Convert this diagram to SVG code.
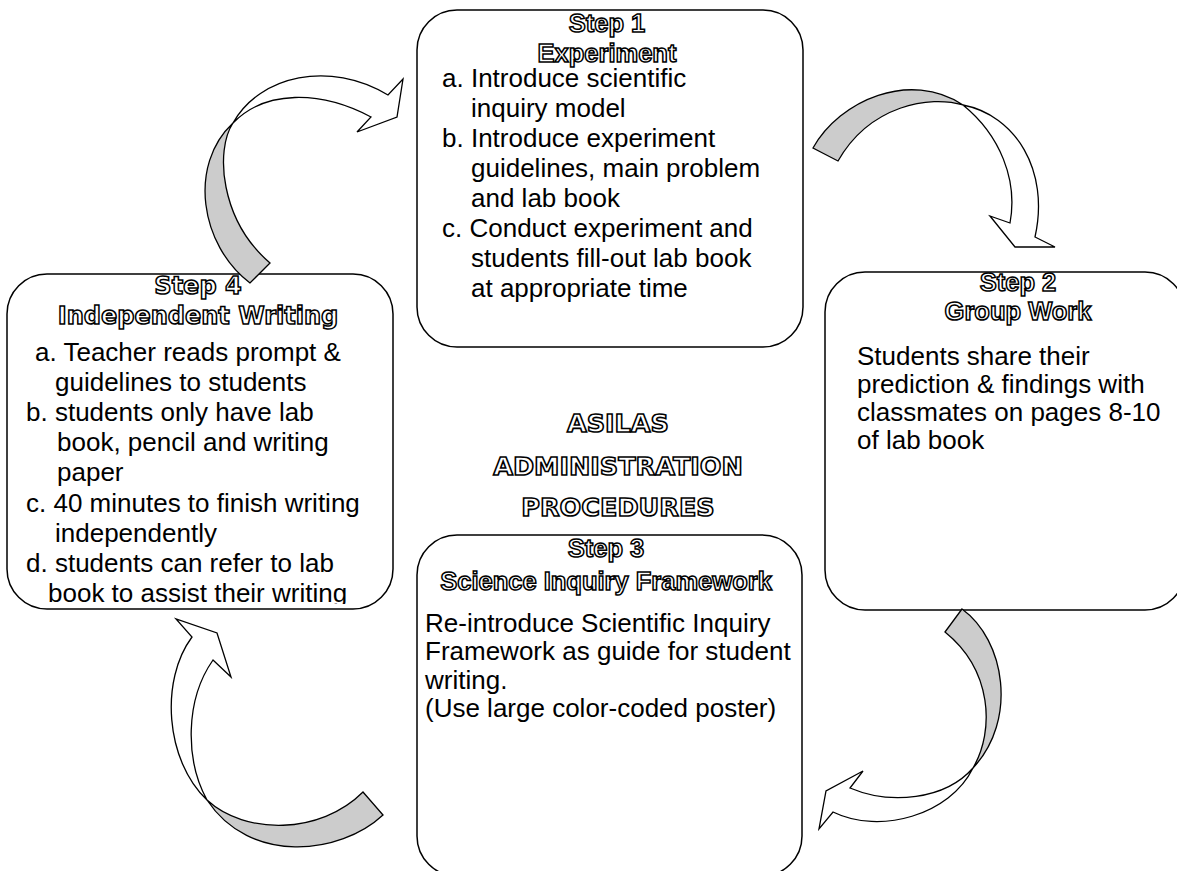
<svg xmlns="http://www.w3.org/2000/svg" width="1177" height="871" viewBox="0 0 1177 871">
<style>
.box{fill:#fff;stroke:#000;stroke-width:1.5}
.hdr{font-family:"Liberation Sans",Arial,sans-serif;font-weight:bold;font-size:25.5px;fill:#fff;stroke:#000;stroke-width:1.5;text-anchor:middle}
.hdr2{font-family:"DejaVu Sans",Verdana,sans-serif;font-weight:bold;font-size:24px;fill:#fff;stroke:#000;stroke-width:1.5;text-anchor:middle}
.ttl{font-family:"DejaVu Sans",Verdana,sans-serif;font-weight:bold;font-size:25.5px;fill:#fff;stroke:#000;stroke-width:1.6;text-anchor:middle}
.body{font-family:"Liberation Sans",Arial,sans-serif;font-size:26px;fill:#000}
.back{fill:#ccc;stroke:#000;stroke-width:1.3;stroke-linejoin:miter}
.front{fill:#fff;stroke:#000;stroke-width:1.3;stroke-linejoin:miter}
</style>
<defs>
<clipPath id="clip4"><rect x="0" y="270" width="400" height="334"/></clipPath>
</defs>
<rect width="1177" height="871" fill="#fff"/>

<g id="title">
<text class="ttl" x="618" y="432">ASILAS</text>
<text class="ttl" x="618" y="475">ADMINISTRATION</text>
<text class="ttl" x="618" y="516">PROCEDURES</text>
</g>

<g id="step1">
<rect class="box" x="417" y="10" width="386" height="337" rx="40" ry="40"/>
<text class="hdr" x="607" y="32">Step 1</text>
<text class="hdr" x="607" y="62">Experiment</text>
<text class="body" x="442" y="87">a. Introduce scientific</text>
<text class="body" x="471" y="117">inquiry model</text>
<text class="body" x="442" y="147">b. Introduce experiment</text>
<text class="body" x="471" y="177">guidelines, main problem</text>
<text class="body" x="471" y="207">and lab book</text>
<text class="body" x="442" y="237">c. Conduct experiment and</text>
<text class="body" x="471" y="267">students fill-out lab book</text>
<text class="body" x="471" y="297">at appropriate time</text>
</g>

<g id="step2">
<rect class="box" x="825" y="272" width="360" height="338" rx="40" ry="40"/>
<text class="hdr" x="1018" y="291">Step 2</text>
<text class="hdr" x="1018" y="320">Group Work</text>
<text class="body" x="857" y="365">Students share their</text>
<text class="body" x="857" y="393">prediction &amp; findings with</text>
<text class="body" x="857" y="421">classmates on pages 8-10</text>
<text class="body" x="857" y="449">of lab book</text>
</g>

<g id="step3">
<rect class="box" x="417" y="535" width="385" height="341" rx="40" ry="40"/>
<text class="hdr" x="606" y="557">Step 3</text>
<text class="hdr" x="606" y="590">Science Inquiry Framework</text>
<text class="body" x="425" y="632">Re-introduce Scientific Inquiry</text>
<text class="body" x="425" y="660">Framework as guide for student</text>
<text class="body" x="425" y="689">writing.</text>
<text class="body" x="425" y="717">(Use large color-coded poster)</text>
</g>

<g id="step4">
<rect class="box" x="7" y="274" width="386" height="335" rx="40" ry="40"/>
<text class="hdr2" x="198" y="294">Step 4</text>
<text class="hdr2" x="198" y="324">Independent Writing</text>
<g clip-path="url(#clip4)">
<text class="body" x="35" y="361">a. Teacher reads prompt &amp;</text>
<text class="body" x="55" y="391">guidelines to students</text>
<text class="body" x="26" y="421">b. students only have lab</text>
<text class="body" x="57" y="451">book, pencil and writing</text>
<text class="body" x="57" y="481">paper</text>
<text class="body" x="26" y="512">c. 40 minutes to finish writing</text>
<text class="body" x="55" y="542">independently</text>
<text class="body" x="26" y="572">d. students can refer to lab</text>
<text class="body" x="48" y="602">book to assist their writing</text>
</g>
</g>

<g id="connectors">
<g id="arrow-4-to-1">
<path class="back" d="M250,283 C200,245 188,165 233,123 C215,150 220,220 270,263 Z"/>
<path class="front" d="M233,123 C260,75 330,60 388,95 L403,79 L397,117 L357,132 L371,117 C320,90 265,90 233,123 Z"/>
</g>
<g id="arrow-1-to-2">
<path class="back" d="M813,148 C840,100 910,70 963,105 C930,95 870,105 838,161 Z"/>
<path class="front" d="M963,105 C1015,115 1050,170 1035,237 L1055,247 L1015,247 L990,216 L1010,223 C1018,180 1000,135 963,105 Z"/>
</g>
<g id="arrow-2-to-3">
<path class="back" d="M962,609 C1005,640 1018,720 973,768 C995,730 992,670 945,632 Z"/>
<path class="front" d="M973,768 C950,815 880,835 833,812 L819,829 L826,791 L863,771 L850,788 C890,805 945,800 973,768 Z"/>
</g>
<g id="arrow-3-to-4">
<path class="back" d="M383,815 C340,855 250,865 207,800 C245,835 320,835 363,792 Z"/>
<path class="front" d="M207,800 C165,760 160,680 192,637 L176,619 L217,633 L231,677 L213,660 C185,700 185,760 207,800 Z"/>
</g>
</g>
</svg>
